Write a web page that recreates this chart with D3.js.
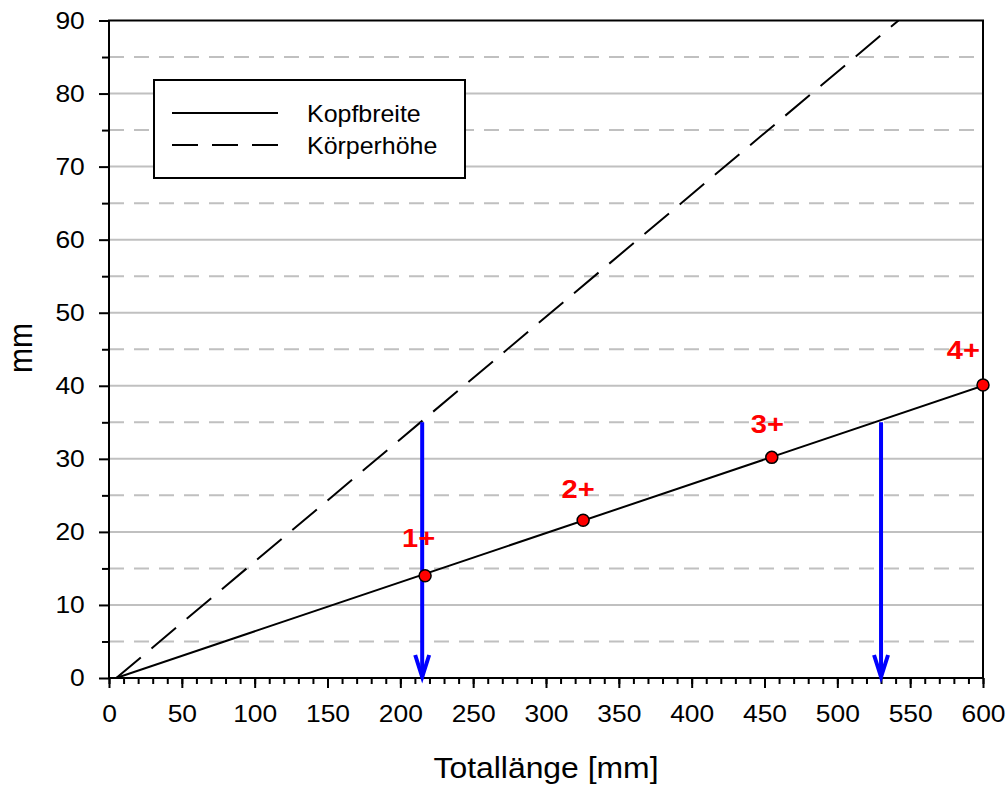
<!DOCTYPE html>
<html lang="de">
<head>
  <meta charset="UTF-8">
  <title>Kopfbreite / Körperhöhe</title>
  <script src="https://cdn.jsdelivr.net/npm/d3@7"></script>
  <style>
    body { margin: 0; background: #fff; }
    text { font-family: "Liberation Sans", Arial, sans-serif; }
  </style>
</head>
<body>
  <div id="chart"></div>
  <script type="text/javascript">
    // data
    var kopfX = [5, 600];
    var kopfY = [0, 40];
    var koerperX = [5, 542];
    var koerperY = [0, 90];

    var pointX = [217, 325.5, 455, 600];
    var pointY = [14.0, 21.6, 30.2, 40.1];
    var pointLabels = ["1+", "2+", "3+", "4+"];
    var labelX = [212.6, 322, 452, 586.5];
    var labelY = [17.9, 24.7, 33.5, 43.6];

    // blue arrows: x, start y
    var arrowX = [215, 530];
    var arrowY = [35, 35];

    var legendNames = ["Kopfbreite", "Körperhöhe"];

    var xMajor = d3.range(0, 601, 50);
    var xMinor = d3.range(0, 601, 10);
    var yMajor = d3.range(0, 91, 10);
    var yMinor = d3.range(5, 90, 10);

    var W = 1007, H = 785;
    var stretch = 1.1; // text in the original is a bit wider than Arial
    var svg = d3.select("#chart").append("svg")
      .attr("width", W).attr("height", H);

    var x = d3.scaleLinear().domain([0, 600]).range([109, 983]);
    var y = d3.scaleLinear().domain([0, 90]).range([678, 20.5]);

    svg.append("defs").append("clipPath").attr("id", "plot")
      .append("rect")
        .attr("x", x(0)).attr("y", y(90))
        .attr("width", x(600) - x(0)).attr("height", y(0) - y(90));

    // gridlines
    svg.append("g").selectAll("line")
      .data(yMajor.filter(function (d) { return d > 0 && d < 90; }))
      .enter().append("line")
        .attr("x1", x(0)).attr("x2", x(600))
        .attr("y1", function (d) { return y(d); })
        .attr("y2", function (d) { return y(d); })
        .attr("stroke", "#c0c0c0").attr("stroke-width", 2);

    svg.append("g").selectAll("line")
      .data(yMinor)
      .enter().append("line")
        .attr("x1", x(0)).attr("x2", x(600))
        .attr("y1", function (d) { return y(d); })
        .attr("y2", function (d) { return y(d); })
        .attr("stroke", "#c0c0c0").attr("stroke-width", 2)
        .attr("stroke-dasharray", "15,10");

    // x axis
    var xAxis = svg.append("g").attr("transform", "translate(0," + y(0) + ")");
    xAxis.call(d3.axisBottom(x).tickValues(xMinor).tickSize(6).tickFormat(""));
    xAxis.append("g").call(d3.axisBottom(x).tickValues(xMajor).tickSize(10).tickPadding(17)
      .tickFormat(d3.format("d")));
    xAxis.selectAll(".domain").remove();
    xAxis.selectAll("line").attr("stroke", "#000").attr("stroke-width", 2);
    xAxis.selectAll("text").attr("font-size", 24).attr("fill", "#000")
      .attr("transform", "scale(" + stretch + ",1)")
      .style("font-family", "'Liberation Sans', Arial, sans-serif");

    // y axis
    var yAxis = svg.append("g").attr("transform", "translate(" + x(0) + ",0)");
    yAxis.call(d3.axisLeft(y).tickValues(yMinor).tickSize(7).tickFormat(""));
    yAxis.append("g").call(d3.axisLeft(y).tickValues(yMajor).tickSize(10).tickPadding(12)
      .tickFormat(d3.format("d")));
    yAxis.selectAll(".domain").remove();
    yAxis.selectAll("line").attr("stroke", "#000").attr("stroke-width", 2);
    yAxis.selectAll("text").attr("font-size", 24).attr("fill", "#000")
      .attr("transform", "scale(" + stretch + ",1)")
      .style("font-family", "'Liberation Sans', Arial, sans-serif");

    // frame
    svg.append("path")
      .attr("d", "M" + x(0) + "," + y(0) + "V" + y(90) + "H" + x(600) + "V" + y(0) + "H" + x(0))
      .attr("fill", "none").attr("stroke", "#000").attr("stroke-width", 2);

    var line = d3.line()
      .x(function (d) { return x(d[0]); })
      .y(function (d) { return y(d[1]); });

    var g = svg.append("g").attr("clip-path", "url(#plot)");

    g.append("path")
      .datum(d3.zip(koerperX, koerperY))
      .attr("d", line)
      .attr("fill", "none").attr("stroke", "#000").attr("stroke-width", 2)
      .attr("stroke-dasharray", "32,14");

    g.append("path")
      .datum(d3.zip(kopfX, kopfY))
      .attr("d", line)
      .attr("fill", "none").attr("stroke", "#000").attr("stroke-width", 2);

    // blue arrows
    var arrows = svg.append("g").attr("stroke", "#0000ff").attr("stroke-width", 4)
      .attr("fill", "none");
    arrowX.forEach(function (ax, i) {
      var px = x(ax);
      arrows.append("line")
        .attr("x1", px).attr("x2", px)
        .attr("y1", y(arrowY[i])).attr("y2", y(0) - 1);
      arrows.append("path")
        .attr("d", "M" + (px - 7) + "," + (y(0) - 23) + "L" + px + "," + (y(0) - 1) +
                   "L" + (px + 7) + "," + (y(0) - 23));
    });

    // points
    svg.append("g").selectAll("circle")
      .data(d3.zip(pointX, pointY))
      .enter().append("circle")
        .attr("cx", function (d) { return x(d[0]); })
        .attr("cy", function (d) { return y(d[1]); })
        .attr("r", 6)
        .attr("fill", "#ff0000").attr("stroke", "#000").attr("stroke-width", 1.5);

    svg.append("g").selectAll("text")
      .data(pointLabels)
      .enter().append("text")
        .attr("transform", function (d, i) {
          return "translate(" + x(labelX[i]) + "," + y(labelY[i]) + ") scale(1.12,1)";
        })
        .attr("text-anchor", "middle")
        .attr("font-size", 26).attr("font-weight", "bold")
        .attr("fill", "#ff0000")
        .text(function (d) { return d; });

    // legend
    var leg = svg.append("g");
    leg.append("rect")
      .attr("x", 154).attr("y", 80).attr("width", 311).attr("height", 98)
      .attr("fill", "#fff").attr("stroke", "#000").attr("stroke-width", 2);
    legendNames.forEach(function (name, i) {
      var ly = 113 + i * 32;
      leg.append("line")
        .attr("x1", 172).attr("x2", 278).attr("y1", ly).attr("y2", ly)
        .attr("stroke", "#000").attr("stroke-width", 2)
        .attr("stroke-dasharray", i === 1 ? "26,14" : null);
      leg.append("text")
        .attr("transform", "translate(307," + (ly + 9) + ") scale(1.04,1)")
        .attr("font-size", 24).attr("fill", "#000")
        .text(name);
    });

    // axis titles
    svg.append("text")
      .attr("transform", "translate(546,778) scale(" + stretch + ",1)")
      .attr("text-anchor", "middle").attr("font-size", 29)
      .text("Totallänge [mm]");

    svg.append("text")
      .attr("transform", "translate(32,348) scale(" + stretch + ",1) rotate(-90)")
      .attr("text-anchor", "middle").attr("font-size", 30)
      .text("mm");
  </script>
</body>
</html>
